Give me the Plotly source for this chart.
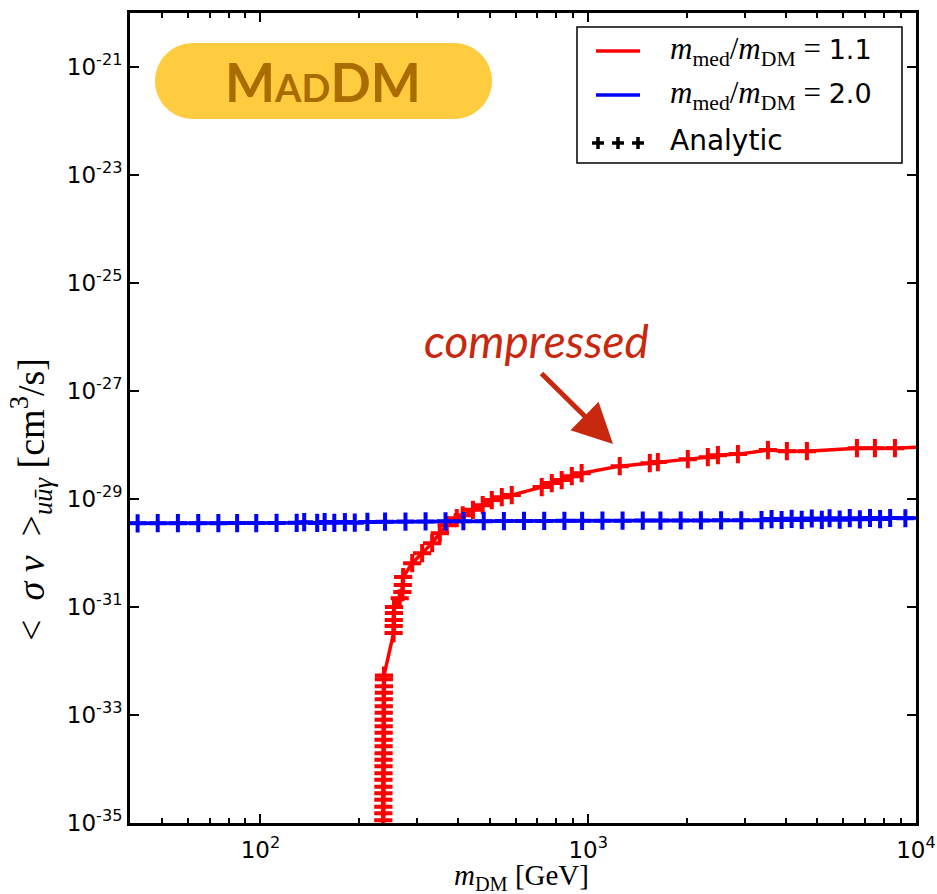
import plotly.graph_objects as go
import math

# ---------------- data ----------------
red_mass = [236.9, 237.0, 237.05, 237.1, 237.15, 237.2, 237.25, 237.3, 237.35, 237.4, 237.45,
            237.5, 237.55, 237.6, 237.65, 237.7, 237.75, 237.8, 237.85, 237.9, 237.95,
            238.0, 238.1, 238.2,
            254.8, 255.0, 255.2, 255.4, 255.6,
            266.0, 271.0, 271.8, 272.5,
            290.4, 311.4, 334.1, 352.5, 370.3, 397.2, 414.0, 445.0, 476.6, 508.0, 544.8, 584.4,
            721.4, 774.0, 830.0, 891.0, 955.0, 1248, 1541, 1631, 2013, 2317, 2487, 2862,
            3534, 4037, 4647, 6604, 7494, 8626, 10000]
red_sigma = [5.0e-36, 1.12e-35, 1.51e-35, 2.00e-35, 2.69e-35, 3.55e-35, 4.68e-35, 6.31e-35, 8.32e-35,
             1.12e-34, 1.48e-34, 1.95e-34, 2.63e-34, 3.47e-34, 4.68e-34, 6.17e-34, 8.13e-34,
             1.10e-33, 1.45e-33, 1.95e-33, 2.57e-33, 3.39e-33, 4.57e-33, 5.37e-33,
             3.29e-32, 4.47e-32, 5.75e-32, 7.76e-32, 1.00e-31,
             1.45e-31, 1.89e-31, 2.55e-31, 3.58e-31,
             6.47e-31, 9.91e-31, 1.52e-30, 2.33e-30, 3.27e-30, 4.42e-30, 5.0e-30, 6.3e-30,
             7.67e-30, 9.55e-30, 1.08e-29, 1.18e-29,
             1.66e-29, 1.97e-29, 2.24e-29, 2.65e-29, 3.01e-29, 4.06e-29, 4.61e-29, 4.82e-29,
             5.47e-29, 5.96e-29, 6.49e-29, 6.78e-29, 8.04e-29, 7.69e-29, 7.69e-29, 8.75e-29,
             8.75e-29, 8.75e-29, 9.1e-29]

blue_mass = [40, 42.2, 48.6, 56.0, 64.6, 74.4, 84.9, 97.1, 112, 129, 136, 149, 157, 168, 181, 194,
             212, 240, 277, 319, 367, 416, 480, 553, 637, 734, 846, 958, 1105, 1273, 1467,
             1661, 1915, 2207, 2543, 2930, 3378, 3625, 3890, 4175, 4480, 4808, 5160, 5450,
             5850, 6280, 6740, 7240, 7770, 8340, 9280, 10000]
blue_sigma = [3.55e-30, 3.55e-30, 3.56e-30, 3.56e-30, 3.57e-30, 3.57e-30, 3.58e-30, 3.58e-30,
              3.60e-30, 3.62e-30, 3.72e-30, 3.60e-30, 3.75e-30, 3.62e-30, 3.74e-30, 3.64e-30,
              3.76e-30, 3.80e-30, 3.82e-30, 3.84e-30, 3.86e-30, 3.88e-30, 3.89e-30, 3.90e-30,
              3.92e-30, 3.93e-30, 3.94e-30, 3.95e-30, 3.96e-30, 3.97e-30, 3.98e-30, 3.99e-30,
              4.00e-30, 4.01e-30, 4.02e-30, 4.03e-30, 4.05e-30, 4.25e-30, 4.08e-30, 4.30e-30,
              4.10e-30, 4.35e-30, 4.12e-30, 4.40e-30, 4.15e-30, 4.42e-30, 4.20e-30, 4.45e-30,
              4.25e-30, 4.45e-30, 4.40e-30, 4.45e-30]

x_tickvals = [100, 1000, 10000]
x_ticktext = ["10<sup>2</sup>", "10<sup>3</sup>", "10<sup>4</sup>"]
y_exponents = [-21, -23, -25, -27, -29, -31, -33, -35]
y_tickvals = [10.0 ** e for e in y_exponents]
y_ticktext = ["10<sup>%d</sup>" % e for e in y_exponents]

legend_labels = ["1.1", "2.0", "Analytic"]

# ---------------- layout geometry ----------------
W, H = 937, 894
L, R, T, B = 130, 21, 13, 71
PW, PH = W - L - R, H - T - B


def px(x):
    return (x - L) / PW


def py(y):
    return (H - B - y) / PH


fig = go.Figure()

# MadDM lines (through all points) and analytic markers
fig.add_trace(go.Scatter(x=red_mass, y=red_sigma, mode="lines",
                         line=dict(color="#ff0000", width=3.5), showlegend=False))
fig.add_trace(go.Scatter(x=blue_mass, y=blue_sigma, mode="lines",
                         line=dict(color="#0000ff", width=3.5), showlegend=False))
fig.add_trace(go.Scatter(x=red_mass[1:-1], y=red_sigma[1:-1], mode="markers",
                         marker=dict(symbol="cross-thin", size=13,
                                     line=dict(color="#ff0000", width=4)),
                         showlegend=False))
fig.add_trace(go.Scatter(x=blue_mass[1:-1], y=blue_sigma[1:-1], mode="markers",
                         marker=dict(symbol="cross-thin", size=13,
                                     line=dict(color="#0000ff", width=4)),
                         showlegend=False))

minor_x = [m * 10 ** d for d in (1, 2, 3) for m in range(2, 10) if 40 < m * 10 ** d < 10000]

axis_common = dict(showline=True, linecolor="black", linewidth=3, mirror="ticks",
                   ticks="inside", ticklen=9, tickwidth=2, tickcolor="black",
                   showgrid=False, zeroline=False, automargin=False,
                   tickfont=dict(family="DejaVu Sans", size=23, color="black"))

fig.update_xaxes(type="log", range=[math.log10(40), 4], tickmode="array",
                 tickvals=x_tickvals, ticktext=x_ticktext, ticklabelstandoff=4,
                 minor=dict(tickmode="array", tickvals=minor_x, ticks="inside",
                            ticklen=5, tickwidth=1.5, tickcolor="black", showgrid=False),
                 **axis_common)
fig.update_yaxes(type="log", range=[-35, -20], tickmode="array",
                 tickvals=y_tickvals, ticktext=y_ticktext, **axis_common)

# ---------------- decorations ----------------
shapes = []
annotations = []

# MadDM badge (stadium shape)
x0, x1, y0, y1 = 155, 492, 43, 119
r = (y1 - y0) / 2
cy = (y0 + y1) / 2
k = 0.5523 * r
pts = [("M", [(x1 - r, y0)]),
       ("C", [(x1 - r + k, y0), (x1, cy - k), (x1, cy)]),
       ("C", [(x1, cy + k), (x1 - r + k, y1), (x1 - r, y1)]),
       ("L", [(x0 + r, y1)]),
       ("C", [(x0 + r - k, y1), (x0, cy + k), (x0, cy)]),
       ("C", [(x0, cy - k), (x0 + r - k, y0), (x0 + r, y0)])]
path = ""
for cmd, cs in pts:
    path += cmd + " " + " ".join("%.5f,%.5f" % (px(a), py(b)) for a, b in cs) + " "
path += "Z"
shapes.append(dict(type="path", xref="paper", yref="paper", path=path,
                   fillcolor="#ffcb3f", line=dict(width=0), layer="above"))
annotations.append(dict(xref="paper", yref="paper", x=px(323), y=py(cy + 1),
                        text="<b>M<span style='font-size:38px'>AD</span>DM</b>",
                        showarrow=False, xanchor="center", yanchor="middle",
                        font=dict(family="Lato", size=53, color="#a86c00")))

# legend box
shapes.append(dict(type="rect", xref="paper", yref="paper",
                   x0=px(577), x1=px(902), y0=py(163), y1=py(27),
                   line=dict(color="black", width=1.5), fillcolor="white", layer="above"))
for yy, col in ((51, "#ff0000"), (95, "#0000ff")):
    shapes.append(dict(type="line", xref="paper", yref="paper",
                       x0=px(596), x1=px(640), y0=py(yy), y1=py(yy),
                       line=dict(color=col, width=3.5), layer="above"))
for cx in (598, 618, 638):
    shapes.append(dict(type="line", xref="paper", yref="paper",
                       x0=px(cx - 6), x1=px(cx + 6), y0=py(143), y1=py(143),
                       line=dict(color="black", width=3.5), layer="above"))
    shapes.append(dict(type="line", xref="paper", yref="paper",
                       x0=px(cx), x1=px(cx), y0=py(137), y1=py(149),
                       line=dict(color="black", width=3.5), layer="above"))

ratio = ("<span style='font-family:Liberation Serif;font-size:31px'><i>m</i><sub>med</sub>/"
         "<i>m</i><sub>DM</sub> = </span>")
for yy, lab in ((51, legend_labels[0]), (95, legend_labels[1])):
    annotations.append(dict(xref="paper", yref="paper", x=px(668), y=py(yy),
                            text=ratio + lab, showarrow=False,
                            xanchor="left", yanchor="middle",
                            font=dict(family="DejaVu Sans", size=27, color="black")))
annotations.append(dict(xref="paper", yref="paper", x=px(668), y=py(140),
                        text=legend_labels[2], showarrow=False,
                        xanchor="left", yanchor="middle",
                        font=dict(family="DejaVu Sans", size=28, color="black")))

# "compressed" note with arrow
annotations.append(dict(xref="paper", yref="paper", x=px(536), y=py(341),
                        text="<i>compressed</i>", showarrow=False,
                        xanchor="center", yanchor="middle",
                        font=dict(family="Lato", size=46, color="#c8290e")))
annotations.append(dict(xref="paper", yref="paper", x=px(613), y=py(444),
                        ax=540 - 613, ay=372 - 444, text="", showarrow=True,
                        arrowhead=2, arrowsize=1.6, arrowwidth=5, arrowcolor="#c8290e"))

# axis titles
annotations.append(dict(xref="paper", yref="paper", x=px(31), y=py(500),
                        text="&lt;  <i>σ v</i>  &gt;<sub><i>uūγ</i></sub> [cm<sup>3</sup>/s]",
                        textangle=-90, showarrow=False, xanchor="center", yanchor="middle",
                        font=dict(family="Liberation Serif", size=38, color="black")))
annotations.append(dict(xref="paper", yref="paper", x=px(521), y=py(877),
                        text="<i>m</i><sub>DM</sub> [GeV]",
                        showarrow=False, xanchor="center", yanchor="middle",
                        font=dict(family="Liberation Serif", size=29, color="black")))

fig.update_layout(width=W, height=H, margin=dict(l=L, r=R, t=T, b=B),
                  plot_bgcolor="white", paper_bgcolor="white",
                  showlegend=False, shapes=shapes, annotations=annotations)

fig.write_html("out.html")
